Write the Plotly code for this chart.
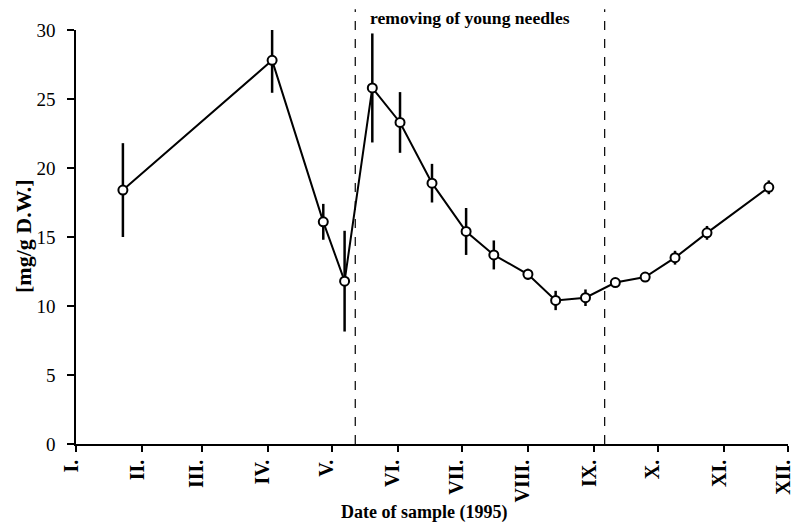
import plotly.graph_objects as go

dates = ["1995-01-23", "1995-04-03", "1995-04-27", "1995-05-07", "1995-05-20",
         "1995-06-02", "1995-06-17", "1995-07-03", "1995-07-16", "1995-08-01",
         "1995-08-14", "1995-08-28", "1995-09-11", "1995-09-25", "1995-10-09",
         "1995-10-24", "1995-11-22"]
values = [18.4, 27.8, 16.1, 11.8, 25.8, 23.3, 18.9, 15.4, 13.7, 12.3,
          10.4, 10.6, 11.7, 12.1, 13.5, 15.3, 18.6]
errors = [3.4, 2.35, 1.3, 3.65, 3.95, 2.2, 1.4, 1.7, 1.05, 0.4,
          0.7, 0.6, 0.3, 0.3, 0.5, 0.5, 0.5]

month_ticks = ["1995-01-01", "1995-02-01", "1995-03-01", "1995-04-01", "1995-05-01",
               "1995-06-01", "1995-07-01", "1995-08-01", "1995-09-01", "1995-10-01",
               "1995-11-01", "1995-12-01"]
month_labels = ["I.", "II.", "III.", "IV.", "V.", "VI.", "VII.", "VIII.", "IX.", "X.", "XI.", "XII."]

event_dates = ["1995-05-12", "1995-09-06"]
event_label = "removing of young needles"

y_ticks = [0, 5, 10, 15, 20, 25, 30]

serif = "Liberation Serif, Times New Roman, serif"

# page has an 8px body margin: figure is 792x515 so it fits the 800x523 window
PLOT_W, PLOT_H = 712, 414

fig = go.Figure()
fig.add_trace(go.Scatter(
    x=dates, y=values, mode="lines+markers",
    line=dict(color="black", width=2),
    marker=dict(symbol="circle", size=9, color="white", line=dict(color="black", width=2)),
    error_y=dict(type="data", array=errors, visible=True, color="black", thickness=2.5, width=0),
    showlegend=False,
))

for d in event_dates:
    fig.add_shape(type="line", xref="x", yref="paper", x0=d, x1=d, y0=0, y1=1.05,
                  line=dict(color="black", width=1.2, dash="dash"))

fig.add_annotation(x="1995-07-05", xref="x", y=1 + 12 / PLOT_H, yref="paper",
                   yanchor="middle", xanchor="center",
                   text="<b>" + event_label + "</b>", showarrow=False,
                   font=dict(family=serif, size=17.6, color="black"))

fig.add_annotation(x=(424 - 76) / PLOT_W, xref="paper", y=-(512 - 444) / PLOT_H, yref="paper",
                   text="<b>Date of sample (1995)</b>", showarrow=False,
                   font=dict(family=serif, size=18, color="black"),
                   xanchor="center", yanchor="middle")
fig.add_annotation(x=-(76 - 23) / PLOT_W, xref="paper", y=0.5, yref="paper",
                   text="<b>[mg/g D.W.]</b>", showarrow=False, textangle=-90,
                   font=dict(family=serif, size=22, color="black"),
                   xanchor="center", yanchor="middle")

fig.update_layout(
    width=792, height=515,
    margin=dict(l=68, r=12, t=22, b=79, autoexpand=False),
    plot_bgcolor="white", paper_bgcolor="white",
    font=dict(family=serif, color="black"),
    xaxis=dict(
        type="date", range=["1995-01-01", "1995-12-01"],
        tickvals=month_ticks, ticktext=["<b>" + t + "</b>" for t in month_labels],
        tickangle=-90, tickfont=dict(family=serif, size=20, color="black"),
        ticklabelshift=-5,
        showline=True, linecolor="black", linewidth=1.5,
        ticks="outside", ticklen=6, tickcolor="black", tickwidth=1.5,
        showgrid=False, zeroline=False, automargin=False,
    ),
    yaxis=dict(
        range=[0, 30], tickvals=y_ticks,
        tickfont=dict(family=serif, size=19, color="black"),
        showline=True, linecolor="black", linewidth=1.5,
        ticks="outside", ticklen=7, tickcolor="black", tickwidth=1.5,
        ticklabelstandoff=8,
        showgrid=False, zeroline=False, automargin=False,
    ),
)

fig.write_html("out.html")
